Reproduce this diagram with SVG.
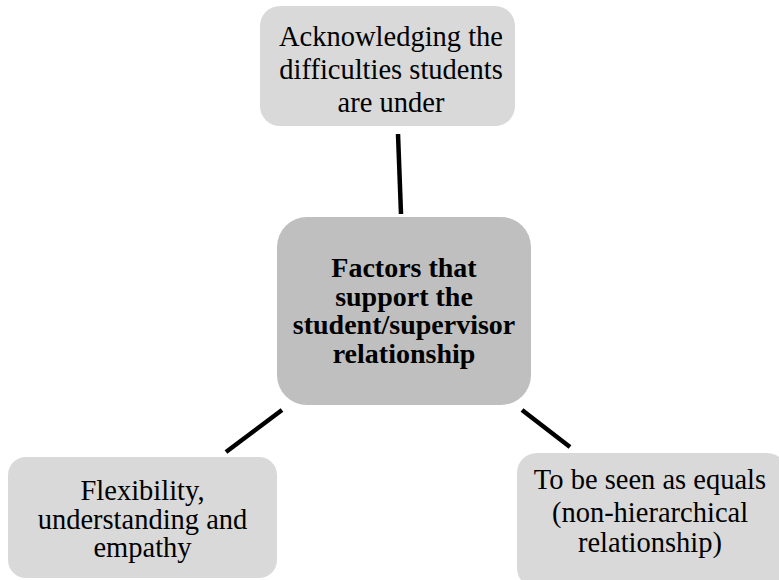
<svg xmlns="http://www.w3.org/2000/svg" width="779" height="580" viewBox="0 0 779 580">
<style>
.box{fill:#d9d9d9;}
.hub{fill:#bfbfbf;}
.t{font-family:"Liberation Serif","Times New Roman",serif;font-size:28.5px;fill:#000;text-anchor:middle;}
.b{font-weight:bold;font-size:28px;}
.c{stroke:#000;stroke-width:4.5;fill:none;}
</style>
<rect width="779" height="580" fill="#fff"/>
<g id="connectors">
<line class="c" x1="398" y1="134" x2="401" y2="214"/>
<line class="c" x1="282" y1="410" x2="226" y2="452"/>
<line class="c" x1="522" y1="410" x2="570" y2="447"/>
</g>
<g id="node-top">
<rect class="box" x="260" y="6" width="255" height="120" rx="20"/>
<text class="t" x="391" y="45.5">Acknowledging the</text>
<text class="t" x="391" y="79">difficulties students</text>
<text class="t" x="391" y="112">are under</text>
</g>
<g id="node-center">
<rect class="hub" x="277" y="217" width="254" height="188" rx="30"/>
<text class="t b" x="404" y="277">Factors that</text>
<text class="t b" x="404" y="305.5">support the</text>
<text class="t b" x="404" y="334">student/supervisor</text>
<text class="t b" x="404" y="362.5">relationship</text>
</g>
<g id="node-left">
<rect class="box" x="8" y="457" width="269" height="121" rx="18"/>
<text class="t" x="142.5" y="499.5">Flexibility,</text>
<text class="t" x="142.5" y="528.5">understanding and</text>
<text class="t" x="142.5" y="557">empathy</text>
</g>
<g id="node-right">
<rect class="box" x="517" y="453" width="270" height="135" rx="20"/>
<text class="t" x="650" y="489">To be seen as equals</text>
<text class="t" x="650" y="522">(non-hierarchical</text>
<text class="t" x="650" y="552">relationship)</text>
</g>
</svg>
